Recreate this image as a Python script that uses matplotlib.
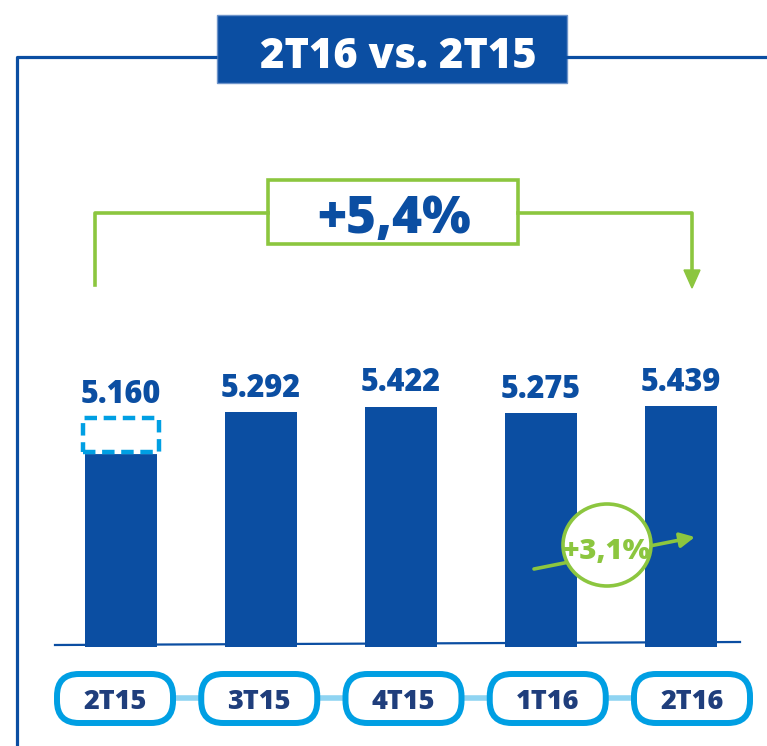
import matplotlib.pyplot as plt
from matplotlib.patches import Rectangle, FancyBboxPatch, Ellipse, Polygon

# data
quarters = ['2T15', '3T15', '4T15', '1T16', '2T16']
values = [5160, 5292, 5422, 5275, 5439]
value_labels = ['5.160', '5.292', '5.422', '5.275', '5.439']
solid_2t15 = 4400          # solid part of the 2T15 bar, rest shown dashed
title = '2T16 vs. 2T15'
growth_year = '+5,4%'
growth_quarter = '+3,1%'

BLUE = '#0B4EA2'
GREEN = '#8CC63F'
CYAN = '#009FE3'
CYAN_LIGHT = '#8FD4F2'
NAVY = '#1F3E7C'
FONT = ['Open Sans', 'DejaVu Sans']
WEIGHT = 800

W, H = 767, 746
fig = plt.figure(figsize=(W / 100, H / 100), dpi=100)

# background decorations, pixel coordinates (y down)
back = fig.add_axes([0, 0, 1, 1], zorder=0)
back.set_xlim(0, W)
back.set_ylim(H, 0)
back.axis('off')

# frame + title box
back.plot([217, 17, 17], [57, 57, H], color=BLUE, lw=2.3, solid_capstyle='butt')
back.plot([567, W], [57, 57], color=BLUE, lw=2.3)
back.add_patch(Rectangle((217, 15), 350, 68, fc=BLUE, ec='#6E94CA', lw=1))
back.text(398, 68, title, color='white', fontsize=30, fontweight=WEIGHT,
          family=FONT, ha='center', va='baseline')

# green bracket with +5,4%
back.plot([95, 95, 268], [285, 213, 213], color=GREEN, lw=2.6)
back.plot([518, 692, 692], [213, 213, 272], color=GREEN, lw=2.6)
back.add_patch(Rectangle((268, 180), 250, 64, fc='white', ec=GREEN, lw=2.6))
back.add_patch(Polygon([(684, 270), (700, 270), (692, 288)], color=GREEN))
back.text(394, 233, growth_year, color=BLUE, fontsize=37, fontweight=WEIGHT,
          family=FONT, ha='center', va='baseline')

# baseline
back.plot([55, 740], [645, 642], color=BLUE, lw=1.6)

# quarter pills
pill_x0, pill_step = 115, 144.25
back.plot([pill_x0, pill_x0 + pill_step * (len(quarters) - 1)], [698, 698],
          color=CYAN_LIGHT, lw=4, zorder=1)
for i, q in enumerate(quarters):
    cx = pill_x0 + pill_step * i
    back.add_patch(FancyBboxPatch((cx - 58, 674), 116, 49,
                                  boxstyle='round,pad=0,rounding_size=22',
                                  fc='white', ec=CYAN, lw=4.3, zorder=2))
    back.text(cx, 709, q, color=NAVY, fontsize=19.5, fontweight=WEIGHT,
              family=FONT, ha='center', va='baseline', zorder=3)

# bars: x = index, y = value, bar bottoms at 647 px
ax = fig.add_axes([0, (H - 647) / H, 1, 647 / H], zorder=1)
ax.patch.set_alpha(0)
ax.set_xlim(-121 / 140, (W - 121) / 140)
ax.set_ylim(0, 647 * 22.55)
ax.axis('off')

x = list(range(len(values)))
heights = [solid_2t15] + values[1:]
ax.bar(x, heights, width=0.51, color=BLUE, zorder=2)

# dashed top part of 2T15
ax.add_patch(Rectangle((-0.27, solid_2t15), 0.54, values[0] - solid_2t15,
                       fc='white', ec='white', lw=3, zorder=3))
ax.add_patch(Rectangle((-0.27, solid_2t15), 0.54, values[0] - solid_2t15,
                       fill=False, ec=CYAN, lw=3.2, ls=(0, (2.8, 1.5)),
                       joinstyle='round', zorder=4))

for xi, v, lbl in zip(x, values, value_labels):
    ax.annotate(lbl, (xi, v), xytext=(0, 11), textcoords='offset points',
                ha='center', va='baseline', color=BLUE, fontsize=22,
                fontweight=WEIGHT, family=FONT)

# front decorations: quarter growth bubble
front = fig.add_axes([0, 0, 1, 1], zorder=2)
front.patch.set_alpha(0)
front.set_xlim(0, W)
front.set_ylim(H, 0)
front.axis('off')
front.annotate('', xy=(695, 537), xytext=(534, 569), zorder=1,
               arrowprops=dict(arrowstyle='-|>', color=GREEN, lw=2.6,
                               mutation_scale=22, shrinkA=0, shrinkB=0))
front.add_patch(Ellipse((607, 545), 88, 82, fc='white', ec=GREEN, lw=2.6,
                        zorder=2))
front.text(607, 559, growth_quarter, color=GREEN, fontsize=21,
           fontweight=WEIGHT, family=FONT, ha='center', va='baseline',
           zorder=3)

fig.savefig('out.png', dpi=100)
